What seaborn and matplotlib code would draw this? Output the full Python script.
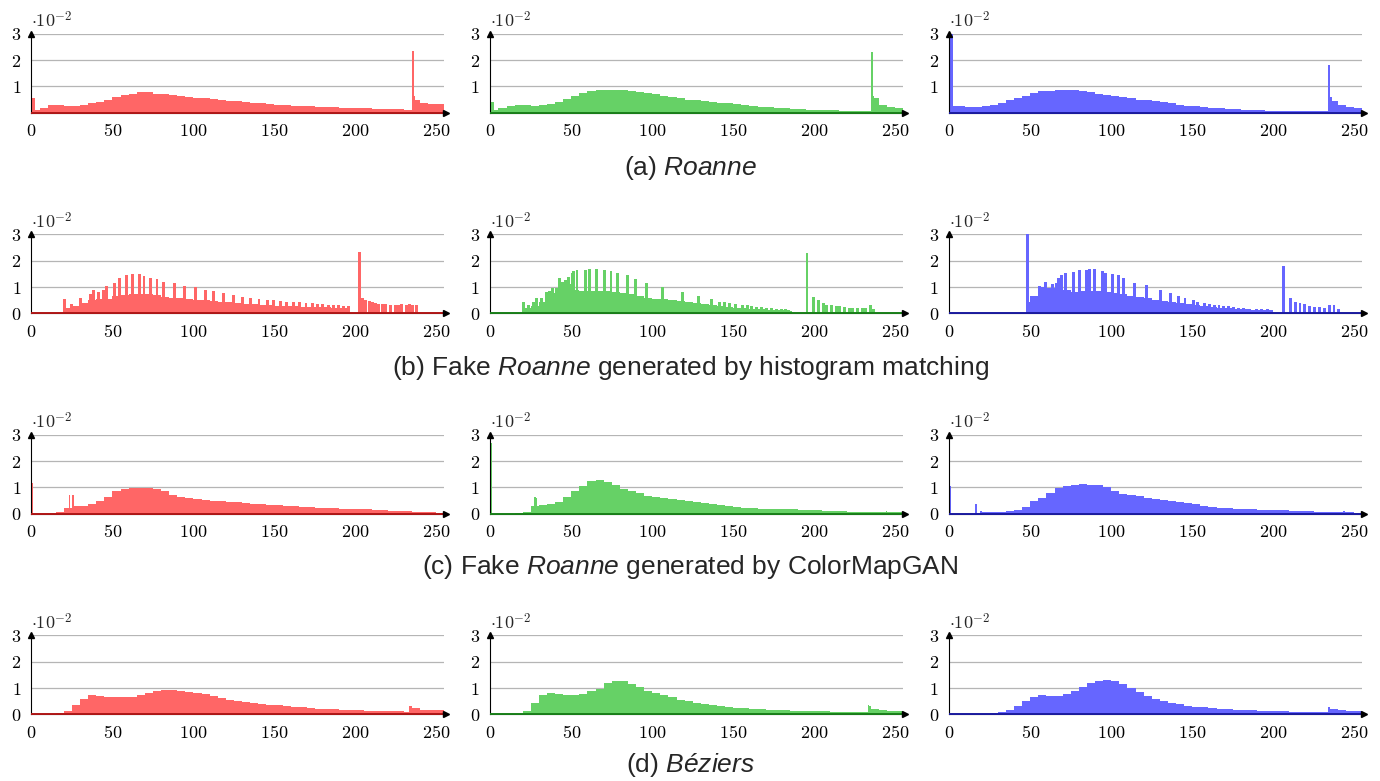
import numpy as np
import pandas as pd
import matplotlib
matplotlib.use("Agg")
import matplotlib.pyplot as plt
import seaborn as sns

# -----------------------------
# DATA (unit = 1e-2)
# body values: one per 5-bin group starting at 0, 5, ..., 255
# spikes: single bins (start position, height)
# -----------------------------
body_starts = list(range(0, 256, 5))

a_red = [0.12, 0.18, 0.28, 0.30, 0.27, 0.27, 0.30, 0.36, 0.42, 0.50, 0.58, 0.66, 0.73, 0.78,
         0.77, 0.72, 0.70, 0.67, 0.64, 0.60, 0.57, 0.55, 0.52, 0.49, 0.46, 0.43, 0.40, 0.38,
         0.35, 0.33, 0.31, 0.29, 0.27, 0.26, 0.25, 0.23, 0.22, 0.20, 0.19, 0.18, 0.17, 0.16,
         0.15, 0.14, 0.13, 0.13, 0.12, 0.50, 0.38, 0.34, 0.32, 0.30]
a_red_spike_x = [0, 1, 235, 236]
a_red_spike_y = [0.57, 0.57, 2.35, 0.62]

a_green = [0.12, 0.16, 0.25, 0.30, 0.28, 0.27, 0.28, 0.33, 0.42, 0.52, 0.63, 0.75, 0.83, 0.86,
           0.86, 0.87, 0.85, 0.82, 0.79, 0.75, 0.70, 0.65, 0.58, 0.54, 0.50, 0.47, 0.44, 0.41,
           0.38, 0.35, 0.32, 0.28, 0.25, 0.23, 0.20, 0.18, 0.17, 0.15, 0.14, 0.12, 0.11, 0.10,
           0.09, 0.08, 0.08, 0.07, 0.07, 0.55, 0.30, 0.22, 0.18, 0.15]
a_green_spike_x = [0, 1, 235, 236]
a_green_spike_y = [0.42, 0.42, 2.30, 0.65]

a_blue = [0.25, 0.24, 0.22, 0.22, 0.25, 0.30, 0.37, 0.47, 0.55, 0.65, 0.74, 0.82, 0.83, 0.85,
          0.86, 0.88, 0.84, 0.78, 0.73, 0.67, 0.63, 0.58, 0.55, 0.50, 0.47, 0.43, 0.39, 0.35,
          0.31, 0.27, 0.25, 0.21, 0.19, 0.16, 0.14, 0.13, 0.11, 0.10, 0.09, 0.08, 0.07, 0.07,
          0.06, 0.06, 0.06, 0.06, 0.06, 0.45, 0.28, 0.20, 0.17, 0.15]
a_blue_spike_x = [0, 1, 234, 235]
a_blue_spike_y = [3.0, 3.0, 1.80, 0.60]

b_red = [0, 0, 0, 0, 0.22, 0.28, 0.40, 0.50, 0.55, 0.55, 0.65, 0.70, 0.73, 0.75,
         0.73, 0.68, 0.63, 0.60, 0.58, 0.55, 0.52, 0.50, 0.48, 0.45, 0.42, 0.40, 0.37, 0.35,
         0.33, 0.30, 0.29, 0.28, 0.27, 0.26, 0.25, 0.24, 0.23, 0.22, 0.22, 0, 0, 0,
         0, 0, 0, 0, 0, 0, 0, 0, 0, 0]
b_red_spike_x = [20, 24, 30, 36, 38, 41, 44, 46, 51, 54, 58, 62, 66, 69, 73, 77, 81, 88, 94,
                 101, 107, 112, 118, 124, 130, 135, 140, 145, 149, 153, 157, 161, 165, 169,
                 173, 176, 179, 183, 186, 189, 192, 195]
b_red_spike_y = [0.55, 0.36, 0.60, 0.75, 0.89, 0.83, 0.88, 1.03, 1.15, 1.33, 1.46, 1.50, 1.50,
                 1.42, 1.35, 1.30, 1.20, 1.15, 1.05, 1.00, 0.90, 0.84, 0.79, 0.71, 0.64, 0.58,
                 0.55, 0.51, 0.50, 0.47, 0.44, 0.43, 0.43, 0.40, 0.38, 0.37, 0.36, 0.33, 0.32,
                 0.30, 0.29, 0.28]
b_red_tail_x = [202, 204, 206, 208, 210, 212, 214, 216, 218, 221, 224, 226, 228, 231, 233, 235, 237]
b_red_tail_y = [2.34, 0.58, 0.52, 0.46, 0.42, 0.38, 0.37, 0.36, 0.35, 0.33, 0.33, 0.33, 0.34,
                0.33, 0.34, 0.33, 0.30]

b_green = [0, 0, 0, 0, 0.20, 0.27, 0.45, 0.78, 0.95, 1.10, 0.90, 0.86, 0.86, 0.86,
           0.84, 0.80, 0.76, 0.72, 0.66, 0.60, 0.56, 0.53, 0.50, 0.46, 0.42, 0.38, 0.35, 0.31,
           0.28, 0.25, 0.22, 0.20, 0.18, 0.16, 0.14, 0.13, 0.12, 0, 0, 0, 0, 0,
           0, 0, 0, 0, 0, 0, 0, 0, 0, 0]
b_green_spike_x = [20, 23, 26, 28, 31, 34, 36, 38, 42, 44, 46, 48, 50, 51, 53, 58, 61, 65, 70,
                   74, 78, 84, 89, 96, 106, 118, 128, 136, 141, 144, 147, 151, 155, 158, 161,
                   164, 167, 170, 173, 176, 179, 182, 185]
b_green_spike_y = [0.42, 0.30, 0.42, 0.57, 0.60, 0.80, 0.85, 0.95, 1.33, 1.18, 1.25, 1.40, 1.55,
                   1.60, 1.65, 1.63, 1.68, 1.70, 1.63, 1.60, 1.55, 1.44, 1.30, 1.15, 1.00, 0.82,
                   0.66, 0.53, 0.45, 0.42, 0.40, 0.35, 0.33, 0.30, 0.27, 0.26, 0.24, 0.22, 0.20,
                   0.18, 0.16, 0.18, 0.10]
b_green_tail_x = [195, 199, 202, 205, 207, 210, 213, 215, 218, 221, 223, 226, 229, 231, 234, 236]
b_green_tail_y = [2.30, 0.62, 0.50, 0.38, 0.32, 0.30, 0.28, 0.27, 0.25, 0.22, 0.22, 0.21, 0.20,
                  0.22, 0.32, 0.15]

b_blue = [0, 0, 0, 0, 0, 0, 0, 0, 0, 0, 0.66, 0.75, 0.95, 1.15,
          0.90, 0.80, 0.85, 0.86, 0.86, 0.83, 0.78, 0.72, 0.66, 0.62, 0.58, 0.52, 0.46, 0.42,
          0.38, 0.34, 0.30, 0.27, 0.24, 0.21, 0.19, 0.17, 0.15, 0.14, 0.13, 0.12, 0, 0,
          0, 0, 0, 0, 0, 0, 0, 0, 0, 0]
b_blue_spike_x = [48, 49, 55, 57, 59, 63, 67, 69, 71, 76, 80, 84, 86, 89, 94, 96, 100, 104, 107,
                  114, 121, 130, 136, 141, 145, 150, 153, 157, 160, 163, 166, 169, 172, 175,
                  178, 181, 185, 189, 192, 196]
b_blue_spike_y = [3.0, 0.45, 1.03, 1.00, 1.20, 1.10, 1.35, 1.45, 1.53, 1.58, 1.63, 1.64, 1.68,
                  1.70, 1.60, 1.55, 1.48, 1.45, 1.33, 1.17, 1.07, 0.87, 0.77, 0.65, 0.57, 0.50,
                  0.44, 0.40, 0.37, 0.33, 0.31, 0.29, 0.27, 0.25, 0.22, 0.20, 0.18, 0.17, 0.15,
                  0.15]
b_blue_tail_x = [206, 210, 213, 216, 219, 222, 225, 228, 231, 234, 237, 240]
b_blue_tail_y = [1.80, 0.60, 0.45, 0.40, 0.35, 0.28, 0.25, 0.24, 0.20, 0.33, 0.33, 0.15]

c_red = [0.02, 0.02, 0.03, 0.06, 0.20, 0.30, 0.30, 0.35, 0.47, 0.65, 0.85, 0.94, 0.97, 0.99,
         0.98, 0.95, 0.85, 0.72, 0.64, 0.58, 0.54, 0.51, 0.49, 0.47, 0.45, 0.43, 0.41, 0.38,
         0.36, 0.34, 0.32, 0.30, 0.28, 0.26, 0.25, 0.23, 0.22, 0.21, 0.19, 0.18, 0.17, 0.16,
         0.15, 0.13, 0.12, 0.10, 0.09, 0.08, 0.07, 0.05, 0.04, 0.03]
c_red_spike_x = [0, 23, 25]
c_red_spike_y = [1.15, 0.70, 0.70]

c_green = [0, 0, 0, 0.01, 0.08, 0.30, 0.33, 0.35, 0.45, 0.65, 0.85, 1.05, 1.23, 1.27,
           1.20, 1.10, 0.95, 0.85, 0.77, 0.68, 0.62, 0.58, 0.55, 0.52, 0.48, 0.44, 0.40, 0.36,
           0.32, 0.29, 0.26, 0.23, 0.21, 0.19, 0.18, 0.17, 0.16, 0.16, 0.15, 0.14, 0.14, 0.12,
           0.10, 0.09, 0.08, 0.07, 0.07, 0.06, 0.06, 0.06, 0.06, 0.05]
c_green_spike_x = [0, 27, 28, 244]
c_green_spike_y = [2.70, 0.62, 0.58, 0.12]

c_blue = [0, 0, 0, 0.02, 0.06, 0.06, 0.07, 0.10, 0.15, 0.25, 0.50, 0.60, 0.80, 0.98,
          1.07, 1.08, 1.12, 1.10, 1.10, 1.02, 0.88, 0.76, 0.70, 0.66, 0.61, 0.57, 0.53, 0.49,
          0.45, 0.41, 0.36, 0.31, 0.27, 0.23, 0.20, 0.18, 0.17, 0.16, 0.15, 0.14, 0.13, 0.13,
          0.12, 0.10, 0.09, 0.08, 0.07, 0.06, 0.06, 0.05, 0.04, 0.03]
c_blue_spike_x = [0, 16, 19, 243]
c_blue_spike_y = [1.05, 0.38, 0.12, 0.12]

d_red = [0, 0.01, 0.02, 0.04, 0.12, 0.35, 0.60, 0.72, 0.70, 0.66, 0.65, 0.64, 0.66, 0.72,
         0.80, 0.88, 0.92, 0.92, 0.90, 0.86, 0.81, 0.76, 0.70, 0.63, 0.56, 0.50, 0.46, 0.43,
         0.40, 0.37, 0.34, 0.31, 0.28, 0.26, 0.24, 0.22, 0.21, 0.19, 0.17, 0.16, 0.15, 0.14,
         0.13, 0.12, 0.12, 0.11, 0.10, 0.24, 0.18, 0.16, 0.15, 0.14]
d_red_spike_x = [233, 234]
d_red_spike_y = [0.33, 0.30]

d_green = [0, 0, 0.01, 0.03, 0.12, 0.42, 0.72, 0.80, 0.78, 0.75, 0.73, 0.78, 0.87, 0.98,
           1.18, 1.28, 1.28, 1.15, 1.03, 0.89, 0.80, 0.72, 0.64, 0.56, 0.49, 0.43, 0.38, 0.34,
           0.31, 0.28, 0.25, 0.23, 0.21, 0.19, 0.17, 0.16, 0.15, 0.14, 0.13, 0.12, 0.11, 0.11,
           0.10, 0.10, 0.09, 0.09, 0.08, 0.22, 0.15, 0.13, 0.12, 0.11]
d_green_spike_x = [233, 234]
d_green_spike_y = [0.35, 0.30]

d_blue = [0.01, 0.01, 0.01, 0.02, 0.03, 0.04, 0.08, 0.16, 0.30, 0.50, 0.64, 0.72, 0.70, 0.70,
          0.76, 0.90, 1.05, 1.18, 1.27, 1.32, 1.27, 1.17, 1.00, 0.85, 0.70, 0.60, 0.51, 0.44,
          0.38, 0.33, 0.29, 0.26, 0.24, 0.22, 0.20, 0.18, 0.16, 0.15, 0.14, 0.13, 0.12, 0.11,
          0.10, 0.10, 0.09, 0.09, 0.08, 0.22, 0.15, 0.13, 0.11, 0.10]
d_blue_spike_x = [234]
d_blue_spike_y = [0.26]

captions = [
    r"(a) $\mathit{Roanne}$",
    r"(b) Fake $\mathit{Roanne}$ generated by histogram matching",
    r"(c) Fake $\mathit{Roanne}$ generated by ColorMapGAN",
    r"(d) $\mathit{Béziers}$",
]

panels = [
    [(a_red, a_red_spike_x, a_red_spike_y, None, None),
     (a_green, a_green_spike_x, a_green_spike_y, None, None),
     (a_blue, a_blue_spike_x, a_blue_spike_y, None, None)],
    [(b_red, b_red_spike_x, b_red_spike_y, b_red_tail_x, b_red_tail_y),
     (b_green, b_green_spike_x, b_green_spike_y, b_green_tail_x, b_green_tail_y),
     (b_blue, b_blue_spike_x, b_blue_spike_y, b_blue_tail_x, b_blue_tail_y)],
    [(c_red, c_red_spike_x, c_red_spike_y, None, None),
     (c_green, c_green_spike_x, c_green_spike_y, None, None),
     (c_blue, c_blue_spike_x, c_blue_spike_y, None, None)],
    [(d_red, d_red_spike_x, d_red_spike_y, None, None),
     (d_green, d_green_spike_x, d_green_spike_y, None, None),
     (d_blue, d_blue_spike_x, d_blue_spike_y, None, None)],
]

fill_colors = ["#ff6666", "#66d166", "#6666ff"]
base_colors = ["#b01818", "#1a801a", "#1c1ca0"]

# -----------------------------
# STYLE
# -----------------------------
sns.set_style("white")
plt.rcParams["font.family"] = ["Liberation Sans", "DejaVu Sans"]
plt.rcParams["mathtext.fontset"] = "cm"
plt.rcParams["mathtext.rm"] = "Liberation Sans"
plt.rcParams["mathtext.it"] = "Liberation Sans:italic"

fig = plt.figure(figsize=(13.8, 7.81), dpi=100)

col_left = [0.0228, 0.3553, 0.6879]
col_width = 0.2993
row_bottom = [0.8557, 0.5988, 0.3423, 0.0854]
row_height = 0.1010
caption_y = [0.7850, 0.5290, 0.2740, 0.0205]

edges5 = [float(e) for e in range(0, 261, 5)]
edges1 = [float(e) for e in range(0, 257, 1)]


def draw_hist(ax, xs, ys, offset, edges, color, shrink=1.0):
    df = pd.DataFrame({"x": np.asarray(xs, dtype=float) + offset,
                       "w": np.asarray(ys, dtype=float)})
    sns.histplot(data=df, x="x", weights="w", bins=edges, ax=ax, shrink=shrink,
                 color=color, alpha=1, linewidth=0, zorder=2)


for r in range(4):
    for c in range(3):
        body, sx, sy, tx, ty = panels[r][c]
        assert len(body) == len(body_starts)
        ax = fig.add_axes([col_left[c], row_bottom[r], col_width, row_height])

        draw_hist(ax, body_starts, body, 2.5, edges5, fill_colors[c])
        if tx is not None:
            # histogram matching: comb spikes and the detached tail bars look ~2 bins wide
            draw_hist(ax, sx, sy, 0.5, edges1, fill_colors[c], shrink=1.8)
            draw_hist(ax, tx, ty, 0.5, edges1, fill_colors[c], shrink=1.8)
        else:
            draw_hist(ax, sx, sy, 0.5, edges1, fill_colors[c])

        ax.set_xlim(0, 255)
        ax.set_ylim(0, 3)
        ax.set_xlabel("")
        ax.set_ylabel("")
        ax.set_xticks([0, 50, 100, 150, 200, 250])
        ax.set_xticklabels([f"${v}$" for v in [0, 50, 100, 150, 200, 250]])
        yt = [1, 2, 3] if r == 0 else [0, 1, 2, 3]
        ax.set_yticks(yt)
        ax.set_yticklabels([f"${v}$" for v in yt])
        ax.tick_params(axis="x", labelsize=13, length=3, width=0.6, direction="inout",
                       pad=6, colors="black")
        ax.tick_params(axis="y", labelsize=13, length=3, width=0.6, direction="inout",
                       pad=6, colors="black")
        ax.yaxis.grid(True, color="#b5b5b5", linewidth=0.9)
        ax.set_axisbelow(True)
        for s in ["top", "right"]:
            ax.spines[s].set_visible(False)
        for s in ["left", "bottom"]:
            ax.spines[s].set_linewidth(0.8)
            ax.spines[s].set_color("black")
        ax.hlines(0, 0, 255, color=base_colors[c], linewidth=1.4, zorder=4, clip_on=False)
        # arrow heads at the axis ends
        ax.plot([1.004], [0], marker=">", color="black", markersize=4,
                transform=ax.transAxes, clip_on=False, zorder=5)
        ax.plot([0], [1.0], marker="^", color="black", markersize=4,
                transform=ax.transAxes, clip_on=False, zorder=5)
        ax.text(0.0, 1.03, r"$\cdot 10^{-2}$", transform=ax.transAxes, ha="left",
                va="bottom", fontsize=13)

    fig.text(0.5, caption_y[r], captions[r], ha="center", va="center", fontsize=19,
             math_fontfamily="custom")

fig.savefig("out.png", dpi=100)
